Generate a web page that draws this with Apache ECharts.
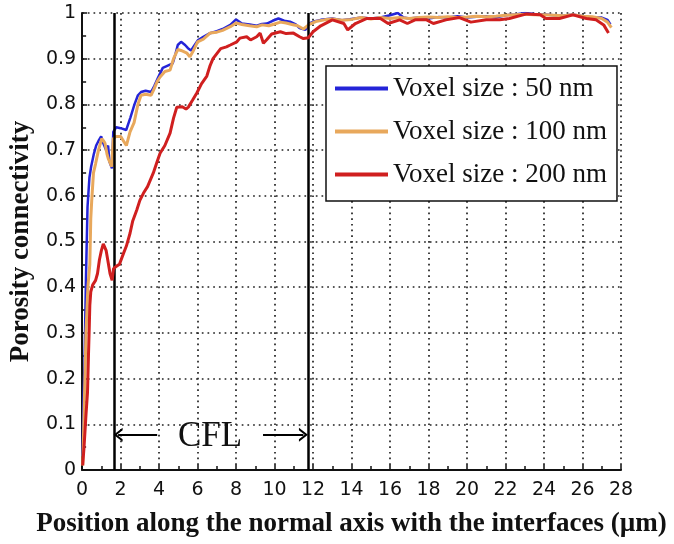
<!DOCTYPE html>
<html>
<head>
<meta charset="utf-8">
<script src="https://cdn.jsdelivr.net/npm/echarts@6/dist/echarts.min.js"></script>
<style>
html,body{margin:0;padding:0;background:#fff;}
#chart{width:674px;height:544px;}
</style>
</head>
<body>
<div id="chart"></div>
<script>
// ---- Data ----
const seriesNames = ['Voxel size : 50 nm', 'Voxel size : 100 nm', 'Voxel size : 200 nm'];

const x50 = [0.02,0.05,0.08,0.12,0.2,0.28,0.38,0.47,0.6,0.73,0.85,0.99,1.1,1.25,1.35,1.42,1.55,1.62,1.77,2.0,2.29,2.5,2.72,2.9,3.06,3.3,3.58,3.75,3.93,4.19,4.45,4.71,4.85,4.97,5.14,5.35,5.5,5.66,5.85,6.01,6.3,6.6,7.0,7.3,7.7,8.0,8.3,8.7,9.07,9.35,9.6,9.9,10.2,10.5,10.8,11.1,11.3,11.6,11.8,12.1,12.4,13,13.5,14,14.5,15,15.5,16,16.4,16.7,17,17.5,18,18.5,19,19.5,20,20.5,21,21.5,22,22.5,23,23.5,24,24.5,25,25.5,26,26.5,27,27.3,27.45];
const y50 = [0.03,0.10,0.17,0.225,0.42,0.575,0.64,0.664,0.69,0.71,0.72,0.73,0.715,0.70,0.71,0.675,0.66,0.74,0.75,0.748,0.744,0.77,0.80,0.82,0.827,0.83,0.827,0.84,0.857,0.88,0.885,0.89,0.91,0.93,0.937,0.93,0.923,0.918,0.93,0.94,0.948,0.955,0.96,0.965,0.974,0.986,0.977,0.975,0.972,0.976,0.977,0.983,0.988,0.983,0.981,0.975,0.967,0.963,0.977,0.982,0.985,0.988,0.984,0.987,0.99,0.988,0.99,0.995,1.0,0.99,0.988,0.99,0.988,0.991,0.99,0.993,0.99,0.992,0.993,0.99,0.995,0.997,1.0,0.998,0.997,0.995,0.994,0.997,0.993,0.99,0.99,0.985,0.975];

const x100 = [0.03,0.1,0.2,0.3,0.4,0.45,0.5,0.59,0.7,0.85,1.02,1.12,1.19,1.3,1.37,1.54,1.62,1.77,2.0,2.15,2.3,2.49,2.7,2.9,3.06,3.3,3.58,3.7,3.9,4.05,4.3,4.57,4.75,4.97,5.14,5.45,5.6,5.75,6.0,6.3,6.65,7.0,7.3,7.7,8.0,8.3,8.7,9.07,9.35,9.7,10.0,10.3,10.6,10.9,11.2,11.5,11.8,12.2,12.6,13,13.5,14,14.5,15,15.5,16,16.5,17,17.5,18,18.5,19,19.5,20,20.5,21,21.5,22,22.5,23,23.5,24,24.5,25,25.5,26,26.5,27,27.3,27.5];
const y100 = [0.01,0.12,0.3,0.4,0.45,0.55,0.59,0.65,0.67,0.70,0.725,0.72,0.715,0.69,0.68,0.664,0.725,0.73,0.73,0.72,0.71,0.74,0.76,0.8,0.82,0.822,0.82,0.83,0.85,0.86,0.872,0.875,0.9,0.92,0.918,0.912,0.904,0.915,0.937,0.943,0.956,0.958,0.962,0.97,0.978,0.975,0.972,0.97,0.974,0.972,0.976,0.98,0.978,0.975,0.972,0.965,0.975,0.982,0.985,0.987,0.984,0.986,0.99,0.987,0.99,0.988,0.99,0.988,0.99,0.991,0.99,0.992,0.99,0.991,0.993,0.992,0.993,0.995,0.996,0.997,0.996,0.996,0.995,0.994,0.996,0.993,0.992,0.988,0.98,0.968];

const x200 = [0.03,0.1,0.2,0.28,0.33,0.37,0.4,0.45,0.55,0.7,0.8,0.9,1.0,1.1,1.16,1.25,1.35,1.45,1.56,1.63,1.75,1.94,2.15,2.3,2.49,2.63,2.84,3.0,3.19,3.4,3.7,3.9,4.05,4.3,4.57,4.75,4.92,5.2,5.4,5.52,5.75,5.96,6.2,6.48,6.65,6.8,7.0,7.2,7.5,7.7,8.04,8.2,8.55,8.75,9.07,9.25,9.42,9.6,9.85,10.3,10.6,10.98,11.3,11.5,11.76,12.0,12.4,13.0,13.6,13.8,14.2,14.8,15.5,15.9,16.5,16.9,17.3,17.9,18.25,18.9,19.6,20.2,21.0,21.7,22.2,23.1,23.8,24.1,24.8,25.5,26.2,26.7,27.1,27.35];
const y200 = [0.01,0.05,0.12,0.17,0.25,0.31,0.36,0.39,0.405,0.415,0.43,0.46,0.48,0.495,0.497,0.48,0.455,0.43,0.415,0.44,0.445,0.45,0.474,0.49,0.518,0.545,0.569,0.59,0.606,0.62,0.65,0.675,0.693,0.71,0.737,0.77,0.794,0.795,0.79,0.794,0.81,0.825,0.845,0.862,0.885,0.9,0.911,0.922,0.926,0.93,0.937,0.945,0.948,0.941,0.948,0.956,0.934,0.942,0.954,0.959,0.955,0.956,0.948,0.944,0.946,0.959,0.972,0.985,0.977,0.963,0.977,0.988,0.988,0.977,0.985,0.977,0.985,0.985,0.977,0.985,0.99,0.98,0.985,0.985,0.988,0.998,0.996,0.988,0.988,0.996,0.988,0.985,0.974,0.956];

// CFL boundaries and annotation positions (data units)
const cflBounds = [1.65, 11.75];
const cflLabel = 'CFL';
const cflLabelPos = [6.65, 0.072];
const cflLeftArrow = [[3.9, 0.077], [1.87, 0.077]];
const cflRightArrow = [[9.4, 0.077], [11.5, 0.077]];

const xTicks = {min: 0, max: 28, interval: 2};
const yTicks = {min: 0, max: 1, interval: 0.1};

const colors = ['#2424d8', '#e8a85c', '#d01f1f'];

function pairs(xs, ys) { return xs.map((x, i) => [x, ys[i]]); }

const chevron = 'path://M0,10 L5,0 L10,10 L8.2,10 L5,3.6 L1.8,10 Z';

const chart = echarts.init(document.getElementById('chart'), null, {renderer: 'canvas'});

const tickFont = {fontFamily: 'DejaVu Sans', fontSize: 19, color: '#111'};
const titleFont = {fontFamily: 'Liberation Serif', fontWeight: 'bold', fontSize: 27, color: '#111'};
const dotted = {color: '#222', width: 1.7, type: [1.7, 4]};

const option = {
  animation: false,
  backgroundColor: '#fff',
  grid: {left: 82, right: 53, top: 13, bottom: 74, containLabel: false},
  legend: {
    data: seriesNames,
    orient: 'vertical',
    left: 326, top: 66,
    itemWidth: 53, itemHeight: 4, itemGap: 16,
    icon: 'rect',
    backgroundColor: '#fff',
    borderColor: '#111', borderWidth: 1.5,
    padding: [9, 10, 13, 9],
    textStyle: {fontFamily: 'Liberation Serif', fontSize: 27, color: '#111'}
  },
  xAxis: {
    type: 'value', min: xTicks.min, max: xTicks.max, interval: xTicks.interval,
    name: 'Position along the normal axis with the interfaces (\u00b5m)',
    nameLocation: 'middle', nameGap: 41, nameTextStyle: titleFont,
    axisLine: {show: true, onZero: false, lineStyle: {color: '#111', width: 2}},
    axisTick: {show: true, inside: true, length: 5, lineStyle: {color: '#111', width: 1.5}},
    minorTick: {show: true, splitNumber: 2, length: 4, lineStyle: {color: '#111', width: 1.5}},
    axisLabel: Object.assign({margin: 11}, tickFont),
    splitLine: {show: true, lineStyle: dotted}
  },
  yAxis: {
    type: 'value', min: yTicks.min, max: yTicks.max, interval: yTicks.interval,
    name: 'Porosity connectivity',
    nameLocation: 'middle', nameGap: 46, nameTextStyle: titleFont,
    axisLine: {show: true, onZero: false, lineStyle: {color: '#111', width: 2}},
    axisTick: {show: true, inside: true, length: 5, lineStyle: {color: '#111', width: 1.5}},
    minorTick: {show: true, splitNumber: 2, length: 4, lineStyle: {color: '#111', width: 1.5}},
    axisLabel: Object.assign({margin: 6}, tickFont),
    splitLine: {show: true, lineStyle: dotted}
  },
  series: [
    {name: seriesNames[0], type: 'line', data: pairs(x50, y50), showSymbol: false, symbol: 'none',
     lineStyle: {color: colors[0], width: 2.5}, itemStyle: {color: colors[0]}, z: 3},
    {name: seriesNames[1], type: 'line', data: pairs(x100, y100), showSymbol: false, symbol: 'none',
     lineStyle: {color: colors[1], width: 3}, itemStyle: {color: colors[1]}, z: 4},
    {name: seriesNames[2], type: 'line', data: pairs(x200, y200), showSymbol: false, symbol: 'none',
     lineStyle: {color: colors[2], width: 3}, itemStyle: {color: colors[2]}, z: 5},
    {
      name: 'annot', type: 'line', data: [], z: 6,
      markLine: {
        silent: true, animation: false,
        label: {show: false},
        lineStyle: {color: '#000', width: 2.5, type: 'solid'},
        symbol: ['none', 'none'],
        data: [
          [{coord: [cflBounds[0], yTicks.min]}, {coord: [cflBounds[0], yTicks.max]}],
          [{coord: [cflBounds[1], yTicks.min]}, {coord: [cflBounds[1], yTicks.max]}],
          [{coord: cflLeftArrow[0], symbol: 'none', lineStyle: {width: 2.2}},
           {coord: cflLeftArrow[1], symbol: chevron, symbolSize: [14, 9], lineStyle: {width: 2.2}}],
          [{coord: cflRightArrow[0], symbol: 'none', lineStyle: {width: 2.2}},
           {coord: cflRightArrow[1], symbol: chevron, symbolSize: [14, 9], lineStyle: {width: 2.2}}]
        ]
      },
      markPoint: {
        silent: true, symbol: 'circle', symbolSize: 0,
        label: {show: true, position: 'inside', formatter: cflLabel,
                fontFamily: 'Liberation Serif', fontSize: 35, color: '#111'},
        data: [{coord: cflLabelPos}]
      }
    }
  ]
};
chart.setOption(option);
</script>
</body>
</html>
